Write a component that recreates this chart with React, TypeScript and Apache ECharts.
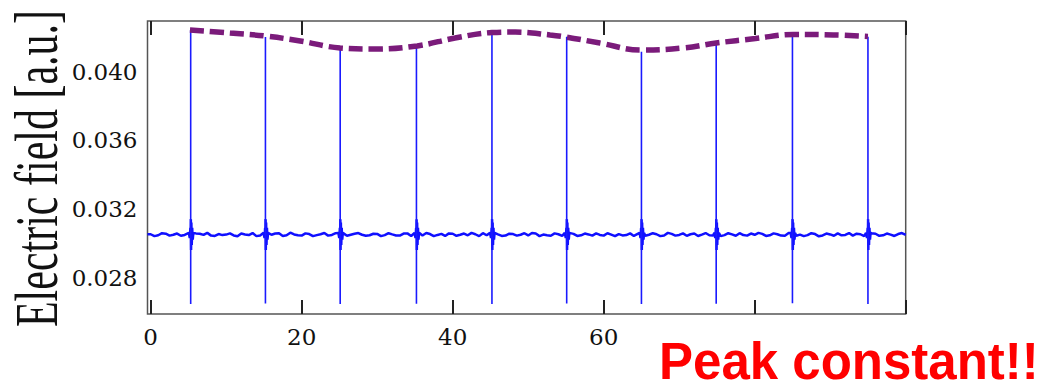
import React, { useEffect, useRef } from "react";
import * as echarts from "echarts";

// ---- data ----
const xTickValues = [0, 20, 40, 60, 80, 100];
const xTickLabels = [0, 20, 40, 60];
const yTickLabels = [0.028, 0.032, 0.036, 0.04];

const pulseX = [5.3, 15.2, 25.1, 35.2, 45.2, 55.1, 65.0, 74.9, 85.0, 95.0];
const pulseTop = [0.04242, 0.04201, 0.04125, 0.04149, 0.04224, 0.04203, 0.04115, 0.04168, 0.04207, 0.04203];
const pulseBottom = [0.02646, 0.02648, 0.02646, 0.02647, 0.02646, 0.02648, 0.02646, 0.02647, 0.0265, 0.02646];

const baselineLevel = 0.0305;
// baseline samples at x = 0, 1, 2, ... 100
const baselineNoise = [
  0.03052, 0.03046, 0.03055, 0.03049, 0.03043, 0.03051, 0.03057, 0.03048, 0.03044, 0.03053,
  0.0305, 0.03045, 0.03056, 0.03047, 0.03041, 0.03054, 0.03049, 0.03058, 0.03046, 0.03051,
  0.03044, 0.03053, 0.03047, 0.03059, 0.03048, 0.03052, 0.03043, 0.03055, 0.03049, 0.03046,
  0.03054, 0.03047, 0.03051, 0.03044, 0.03057, 0.0305, 0.03045, 0.03053, 0.03048, 0.03042,
  0.03055, 0.03049, 0.03046, 0.03052, 0.03058, 0.03047, 0.03051, 0.03044, 0.03053, 0.03049,
  0.03045, 0.03056, 0.0305, 0.03043, 0.03052, 0.03047, 0.03054, 0.03046, 0.03051, 0.03057,
  0.03044, 0.0305, 0.03053, 0.03047, 0.03042, 0.03055, 0.03049, 0.03052, 0.03045, 0.03054,
  0.03048, 0.03043, 0.03056, 0.0305, 0.03046, 0.03053, 0.03047, 0.03051, 0.03058, 0.03044,
  0.03049, 0.03054, 0.03046, 0.03052, 0.03043, 0.03055, 0.0305, 0.03047, 0.03053, 0.03045,
  0.03051, 0.03057, 0.03048, 0.03044, 0.03052, 0.03049, 0.03055, 0.03046, 0.0305, 0.03053,
  0.03048,
];
// baseline samples at x = 0.5, 1.5, ... 99.5
const baselineNoiseMid = [
  0.03041, 0.03058, 0.03044, 0.03056, 0.03048, 0.03039, 0.03055, 0.03060, 0.03042, 0.03047,
  0.03057, 0.03040, 0.03051, 0.03059, 0.03045, 0.03043, 0.03056, 0.03042, 0.03061, 0.03046,
  0.03057, 0.03041, 0.03052, 0.03044, 0.03058, 0.03040, 0.03049, 0.03059, 0.03043, 0.03055,
  0.03041, 0.03058, 0.03045, 0.03056, 0.03042, 0.03047, 0.03059, 0.03041, 0.03054, 0.03057,
  0.03043, 0.03056, 0.03060, 0.03041, 0.03046, 0.03057, 0.03042, 0.03055, 0.03044, 0.03058,
  0.03059, 0.03041, 0.03046, 0.03057, 0.03043, 0.03059, 0.03042, 0.03056, 0.03044, 0.03048,
  0.03058, 0.03041, 0.03045, 0.03057, 0.03054, 0.03043, 0.03058, 0.03041, 0.03060, 0.03044,
  0.03057, 0.03052, 0.03042, 0.03059, 0.03045, 0.03041, 0.03058, 0.03043, 0.03047, 0.03056,
  0.03060, 0.03042, 0.03057, 0.03044, 0.03059, 0.03043, 0.03041, 0.03058, 0.03040, 0.03056,
  0.03043, 0.03046, 0.03059, 0.03055, 0.03041, 0.03058, 0.03043, 0.03056, 0.03042, 0.03059,
];
// ringing around each pulse (offset in x, deviation from baseline)
const ringPreDx = [-0.25, -0.12, -0.04];
const ringPreDv = [0.0001, -0.0002, 0.0004];
const ringPostDx = [0.02, 0.05, 0.09, 0.14, 0.2, 0.27, 0.35];
const ringPostDv = [0.0009, -0.0009, 0.0007, -0.0006, 0.0004, -0.0003, 0.0001];

// dashed envelope through the peaks
const envX = [5.2, 10.5, 15.1, 19.8, 25.1, 29.7, 35.3, 40.3, 45.2, 48.3, 52.9, 55.0, 59.5, 64.9, 70.5, 74.9, 80.1, 85.1, 90.4, 95.0];
const envY = [0.04242, 0.04224, 0.04207, 0.04178, 0.04137, 0.04131, 0.04149, 0.04195, 0.04227, 0.0423, 0.04213, 0.04201, 0.04166, 0.04125, 0.04137, 0.04166, 0.04192, 0.04216, 0.04213, 0.04204];

const X_MIN = -0.42;
const X_MAX = 100;
const Y_MIN = 0.025874;
const Y_MAX = 0.042942;

function buildBaseline(): number[][] {
  const pts: number[][] = [[X_MIN, baselineNoise[0]]];
  const far = (x: number) => !pulseX.some((p) => Math.abs(p - x) < 0.4);
  baselineNoise.forEach((v, i) => {
    if (far(i)) pts.push([i, v]);
  });
  baselineNoiseMid.forEach((v, i) => {
    if (far(i + 0.5)) pts.push([i + 0.5, v]);
  });
  pulseX.forEach((p) => {
    ringPreDx.forEach((dx, j) => pts.push([p + dx, baselineLevel + ringPreDv[j]]));
    pts.push([p, baselineLevel]);
    ringPostDx.forEach((dx, j) => pts.push([p + dx, baselineLevel + ringPostDv[j]]));
  });
  pts.sort((a, b) => a[0] - b[0]);
  return pts;
}

function buildSpikes(): any[] {
  const pts: any[] = [];
  pulseX.forEach((p, k) => {
    pts.push([p, pulseTop[k]]);
    pts.push([p, pulseBottom[k]]);
    pts.push([p, "-"]);
  });
  return pts;
}

export default function App() {
  const ref = useRef<HTMLDivElement>(null);
  useEffect(() => {
    document.body.style.margin = "0";
    if (!ref.current) return;
    const chart = echarts.init(ref.current, null, { renderer: "svg" });
    const envelope = envX.map((x, i) => [x, envY[i]]);
    const tickStyle = { show: true, inside: true, length: 14, lineStyle: { color: "#222", width: 2 }, customValues: xTickValues };
    chart.setOption({
      animation: false,
      backgroundColor: "#fff",
      grid: {
        left: 147.5,
        top: 21,
        right: 148.3,
        bottom: 75,
        show: true,
        borderColor: "#555",
        borderWidth: 1.5,
        backgroundColor: "transparent",
      },
      xAxis: [
        {
          type: "value",
          min: X_MIN,
          max: X_MAX,
          position: "bottom",
          axisLine: { show: false },
          splitLine: { show: false },
          axisTick: tickStyle,
          axisLabel: {
            show: true,
            customValues: xTickLabels,
            margin: 11,
            color: "#111",
            fontFamily: "DejaVu Serif",
            fontSize: 23,
          },
        },
        {
          type: "value",
          min: X_MIN,
          max: X_MAX,
          position: "top",
          axisLine: { show: false },
          splitLine: { show: false },
          axisTick: tickStyle,
          axisLabel: { show: false },
        },
      ],
      yAxis: {
        type: "value",
        min: Y_MIN,
        max: Y_MAX,
        axisLine: { show: false },
        splitLine: { show: false },
        axisTick: { show: false },
        axisLabel: {
          show: true,
          customValues: yTickLabels,
          formatter: (v: number) => v.toFixed(3),
          margin: 10,
          color: "#111",
          fontFamily: "DejaVu Serif",
          fontSize: 23,
        },
      },
      series: [
        {
          type: "line",
          data: buildBaseline(),
          symbol: "none",
          showSymbol: false,
          lineStyle: { color: "#1010ff", width: 2.5 },
          z: 2,
        },
        {
          type: "line",
          data: buildSpikes(),
          symbol: "none",
          showSymbol: false,
          connectNulls: false,
          lineStyle: { color: "#1a1aff", width: 1.6 },
          z: 2,
        },
        {
          type: "line",
          data: envelope,
          smooth: 0.4,
          symbol: "none",
          showSymbol: false,
          lineStyle: { color: "#7b1b7b", width: 5.5, type: [14, 6] },
          z: 3,
        },
      ],
      graphic: [
        {
          type: "text",
          x: 36,
          y: 168.5,
          rotation: Math.PI / 2,
          scaleY: 1.45,
          style: {
            text: "Electric field [a.u.]",
            font: '42px "Liberation Serif"',
            fill: "#111",
            align: "center",
            verticalAlign: "middle",
            textAlign: "center",
            textVerticalAlign: "middle",
          },
        },
        {
          type: "text",
          x: 659,
          y: 361,
          style: {
            text: "Peak constant!!",
            font: 'bold 51px "Liberation Sans"',
            fill: "#ff0000",
            align: "left",
            verticalAlign: "middle",
            textAlign: "left",
            textVerticalAlign: "middle",
          },
        },
      ],
    });
    return () => chart.dispose();
  }, []);
  return <div ref={ref} style={{ width: 1054, height: 389 }} />;
}
